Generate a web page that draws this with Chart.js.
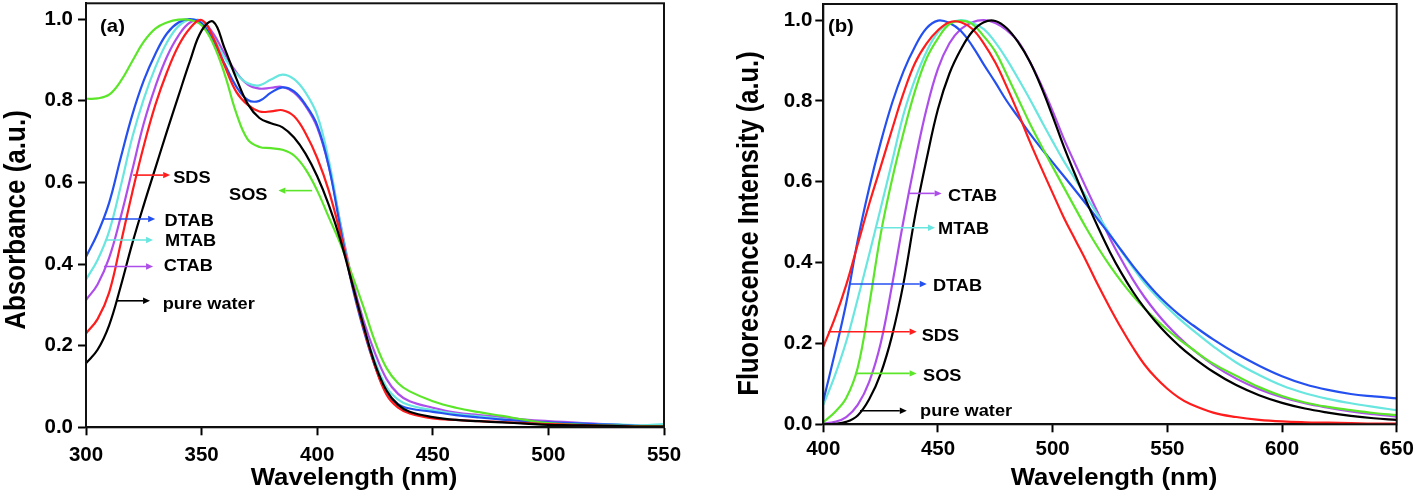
<!DOCTYPE html>
<html><head><meta charset="utf-8">
<script src="https://cdn.jsdelivr.net/npm/chart.js@4.4.1/dist/chart.umd.min.js"></script>
<style>
html,body{margin:0;padding:0;background:#fff;}
#wrap{position:relative;width:1418px;height:502px;background:#fff;}
#ca{position:absolute;left:0;top:0;}
#cb{position:absolute;left:700px;top:0;}
</style></head><body>
<div id="wrap"><canvas id="ca" width="700" height="502"></canvas><canvas id="cb" width="718" height="502"></canvas></div>
<script>
// ---------- (a) absorbance data ----------
const absWavelength = [300,305,310,315,320,325,330,335,340,345,350,355,360,365,370,375,380,385,390,395,400,405,410,415,420,425,430,435,440,450,460,470,480,490,500,510,520,530,540,550];
const absPureWater = [0.157,0.19,0.25,0.345,0.45,0.545,0.635,0.725,0.812,0.898,0.972,0.994,0.928,0.855,0.792,0.758,0.745,0.735,0.71,0.67,0.615,0.545,0.46,0.355,0.25,0.155,0.09,0.055,0.038,0.025,0.018,0.015,0.012,0.009,0.006,0.005,0.004,0.003,0.002,0.002];
const absSDS = [0.23,0.265,0.33,0.45,0.575,0.69,0.79,0.87,0.935,0.978,0.998,0.955,0.885,0.822,0.79,0.774,0.774,0.777,0.762,0.72,0.66,0.58,0.475,0.355,0.245,0.15,0.08,0.048,0.034,0.022,0.018,0.015,0.013,0.01,0.008,0.006,0.004,0.003,0.002,0.002];
const absSOS = [0.805,0.806,0.815,0.848,0.897,0.945,0.977,0.992,0.999,0.998,0.985,0.94,0.865,0.77,0.705,0.687,0.684,0.68,0.666,0.632,0.58,0.515,0.45,0.375,0.295,0.21,0.145,0.108,0.088,0.064,0.048,0.037,0.028,0.018,0.01,0.007,0.005,0.004,0.003,0.003];
const absDTAB = [0.418,0.475,0.55,0.66,0.765,0.85,0.915,0.965,0.992,1.0,0.99,0.948,0.89,0.835,0.802,0.80,0.82,0.833,0.823,0.79,0.74,0.64,0.49,0.35,0.24,0.15,0.085,0.057,0.046,0.038,0.03,0.024,0.019,0.015,0.012,0.01,0.008,0.006,0.003,0.002];
const absMTAB = [0.362,0.41,0.48,0.59,0.71,0.805,0.882,0.943,0.983,0.999,0.993,0.955,0.905,0.867,0.843,0.838,0.852,0.864,0.853,0.82,0.765,0.655,0.50,0.355,0.248,0.162,0.098,0.068,0.054,0.042,0.033,0.027,0.02,0.014,0.01,0.009,0.008,0.007,0.005,0.008];
const absCTAB = [0.312,0.35,0.415,0.515,0.63,0.745,0.835,0.908,0.96,0.992,0.996,0.965,0.915,0.87,0.84,0.83,0.832,0.834,0.82,0.787,0.735,0.64,0.50,0.365,0.262,0.182,0.118,0.082,0.064,0.048,0.036,0.03,0.025,0.019,0.015,0.012,0.009,0.006,0.004,0.003];

// ---------- (b) fluorescence data ----------
const flWavelength = [400,405,410,415,420,425,430,435,440,445,450,455,460,465,470,475,480,485,490,495,500,505,510,515,520,525,530,535,540,545,550,555,560,570,580,590,600,610,620,630,640,650];
const flPureWater = [0,0.001,0.006,0.022,0.062,0.125,0.22,0.35,0.515,0.655,0.78,0.868,0.928,0.972,0.995,0.998,0.98,0.945,0.898,0.835,0.762,0.685,0.615,0.548,0.485,0.426,0.374,0.328,0.288,0.253,0.222,0.195,0.171,0.13,0.097,0.072,0.053,0.039,0.029,0.021,0.015,0.011];
const flSDS = [0.192,0.262,0.345,0.445,0.545,0.637,0.73,0.82,0.894,0.942,0.975,0.995,0.995,0.978,0.942,0.895,0.835,0.77,0.70,0.635,0.572,0.51,0.455,0.40,0.342,0.288,0.237,0.19,0.148,0.115,0.088,0.066,0.05,0.029,0.018,0.011,0.007,0.005,0.004,0.003,0.002,0.002];
const flSOS = [0.005,0.03,0.065,0.14,0.295,0.47,0.606,0.722,0.825,0.905,0.955,0.99,0.998,0.99,0.96,0.922,0.865,0.805,0.745,0.69,0.637,0.585,0.533,0.482,0.435,0.392,0.353,0.318,0.287,0.259,0.234,0.211,0.19,0.15,0.12,0.092,0.07,0.054,0.043,0.035,0.028,0.023];
const flDTAB = [0.058,0.175,0.30,0.455,0.585,0.697,0.795,0.874,0.935,0.98,0.999,0.993,0.973,0.936,0.89,0.846,0.80,0.76,0.72,0.683,0.648,0.613,0.578,0.542,0.505,0.468,0.43,0.392,0.357,0.325,0.297,0.272,0.25,0.21,0.175,0.145,0.119,0.099,0.085,0.075,0.069,0.064];
const flMTAB = [0.048,0.12,0.205,0.31,0.42,0.534,0.65,0.767,0.854,0.922,0.97,0.992,1.0,0.993,0.978,0.945,0.903,0.855,0.805,0.752,0.70,0.65,0.605,0.56,0.515,0.47,0.428,0.388,0.35,0.318,0.289,0.262,0.238,0.193,0.153,0.122,0.096,0.077,0.063,0.052,0.043,0.035];
const flCTAB = [0.002,0.006,0.018,0.048,0.105,0.20,0.345,0.505,0.65,0.78,0.88,0.943,0.978,0.995,1.0,0.993,0.975,0.947,0.898,0.84,0.775,0.705,0.642,0.58,0.52,0.46,0.407,0.358,0.315,0.278,0.245,0.216,0.19,0.147,0.113,0.087,0.067,0.052,0.041,0.032,0.025,0.019];

// ---------- ticks ----------
const absXTicks = [300,350,400,450,500,550];
const flXTicks = [400,450,500,550,600,650];
const yTicks = [0,0.2,0.4,0.6,0.8,1.0];

const FONT = '"Liberation Sans", Arial, Helvetica, sans-serif';
const COLORS = {'pure water':'#000000', SDS:'#ff1c1c', SOS:'#5ce62a', DTAB:'#2450f0', MTAB:'#68e6df', CTAB:'#ae4eea'};

function ds(name, xs, ys){
  return {label:name, data: xs.map((w,i)=>({x:w,y:ys[i]})), borderColor:COLORS[name], backgroundColor:COLORS[name],
    borderWidth:2.2, pointRadius:0, tension:0.4, fill:false};
}

function drawText(ctx, str, x, y, size, align, sx){
  ctx.save();
  ctx.font = 'bold '+size+'px '+FONT;
  ctx.textAlign = align; ctx.textBaseline = 'middle'; ctx.fillStyle = '#000';
  ctx.translate(x,y); ctx.scale(sx,1); ctx.fillText(str,0,0);
  ctx.restore();
}
function drawArrow(ctx, x0, x1, y, color){
  const dir = Math.sign(x1-x0), head = 7;
  ctx.save();
  ctx.strokeStyle = color; ctx.fillStyle = color; ctx.lineWidth = 1.6;
  ctx.beginPath(); ctx.moveTo(x0,y); ctx.lineTo(x1-dir*head,y); ctx.stroke();
  ctx.beginPath(); ctx.moveTo(x1,y); ctx.lineTo(x1-dir*head,y-3.2); ctx.lineTo(x1-dir*head,y+3.2); ctx.closePath(); ctx.fill();
  ctx.restore();
}

function makePanel(canvas, p){
  const W = canvas.width, H = canvas.height;
  const plugin = {
    id:'panel',
    afterDatasetsDraw(chart){
      const ctx = chart.ctx, a = chart.chartArea, xs = chart.scales.x, ys = chart.scales.y;
      ctx.save();
      ctx.strokeStyle = '#111'; ctx.lineWidth = 2;
      ctx.strokeRect(a.left, a.top, a.right-a.left, a.bottom-a.top);
      ctx.restore();
      for (const an of p.notes){
        const x0 = xs.getPixelForValue(an.from), x1 = xs.getPixelForValue(an.to);
        drawArrow(ctx, x0, x1, ys.getPixelForValue(an.arrowY), COLORS[an.name]);
        drawText(ctx, an.name, xs.getPixelForValue(an.textX), ys.getPixelForValue(an.textY)+1, 17, an.to > an.from ? 'left':'right', 1.07);
      }
      drawText(ctx, p.tag, xs.getPixelForValue(p.tagX), ys.getPixelForValue(p.tagY)+1, 19, 'left', 1.07);
      const t = p.titles;
      ctx.save();
      ctx.font = 'bold 23px '+FONT; ctx.fillStyle='#000'; ctx.textAlign='center'; ctx.textBaseline='alphabetic';
      ctx.translate(t.xCenter, t.xBase); ctx.scale(1.12,1); ctx.fillText(p.xTitle,0,0);
      ctx.restore();
      ctx.save();
      ctx.font = 'bold '+t.ySize+'px '+FONT; ctx.fillStyle='#000'; ctx.textAlign='center'; ctx.textBaseline='alphabetic';
      ctx.translate(t.yBase, t.yCenter); ctx.scale(1.12,1); ctx.rotate(-Math.PI/2); ctx.fillText(p.yTitle,0,0);
      ctx.restore();
    }
  };
  const tickFont = {family:FONT, size:20.5, weight:'bold'};
  return new Chart(canvas, {
    type:'line',
    data:{datasets:p.datasets},
    options:{
      responsive:false, animation:false, devicePixelRatio:1,
      layout:{padding:{left:0, top:p.area.top, right:W-p.area.right, bottom:0}},
      plugins:{legend:{display:false}, tooltip:{enabled:false}, title:{display:false}},
      scales:{
        x:{type:'linear', min:p.xMin, max:p.xMax,
          afterBuildTicks:s=>{ s.ticks = p.xTicks.map(v=>({value:v})); },
          afterFit:s=>{ s.height = H-p.area.bottom; s.paddingLeft=0; s.paddingRight=0; s.paddingTop=0; s.paddingBottom=0; },
          grid:{drawOnChartArea:false, drawTicks:true, tickLength:8, tickWidth:2, tickColor:'#000'},
          border:{display:true, color:'#000', width:2},
          ticks:{font:tickFont, color:'#000', padding:p.xPad, maxRotation:0, autoSkip:false, callback:v=>String(v)}
        },
        y:{type:'linear', min:0, max:p.yMax,
          afterBuildTicks:s=>{ s.ticks = yTicks.map(v=>({value:v})); },
          afterFit:s=>{ s.width = p.area.left; s.paddingLeft=0; s.paddingRight=0; s.paddingTop=0; s.paddingBottom=0; },
          grid:{drawOnChartArea:false, drawTicks:true, tickLength:8, tickWidth:2, tickColor:'#000'},
          border:{display:true, color:'#000', width:2},
          ticks:{font:tickFont, color:'#000', padding:p.yPad, autoSkip:false, callback:v=>Number(v).toFixed(1)}
        }
      }
    },
    plugins:[plugin]
  });
}

makePanel(document.getElementById('ca'), {
  area:{left:86, right:664, top:3.3, bottom:427.3},
  xMin:300, xMax:550, yMax:1.039, xTicks:absXTicks, xPad:8, yPad:5,
  datasets:[ds('pure water',absWavelength,absPureWater), ds('SDS',absWavelength,absSDS), ds('SOS',absWavelength,absSOS),
            ds('DTAB',absWavelength,absDTAB), ds('MTAB',absWavelength,absMTAB), ds('CTAB',absWavelength,absCTAB)],
  notes:[
    {name:'SDS', from:320.4, to:336.4, arrowY:0.618, textX:337.7, textY:0.612},
    {name:'SOS', from:397.8, to:383.2, arrowY:0.580, textX:378.5, textY:0.572},
    {name:'DTAB', from:307.8, to:329.9, arrowY:0.5105, textX:334.0, textY:0.507},
    {name:'MTAB', from:308.2, to:329.0, arrowY:0.459, textX:334.2, textY:0.458},
    {name:'CTAB', from:307.8, to:329.0, arrowY:0.394, textX:333.6, textY:0.398},
    {name:'pure water', from:313.0, to:327.7, arrowY:0.31, textX:333.2, textY:0.303}
  ],
  tag:'(a)', tagX:306.1, tagY:0.984,
  xTitle:'Wavelength (nm)', yTitle:'Absorbance (a.u.)',
  titles:{xCenter:354, xBase:485, yBase:25, yCenter:220, ySize:26}
});

makePanel(document.getElementById('cb'), {
  area:{left:123.3, right:696.7, top:4, bottom:424.3},
  xMin:400, xMax:650, yMax:1.04, xTicks:flXTicks, xPad:5, yPad:3,
  datasets:[ds('pure water',flWavelength,flPureWater), ds('SDS',flWavelength,flSDS), ds('SOS',flWavelength,flSOS),
            ds('DTAB',flWavelength,flDTAB), ds('MTAB',flWavelength,flMTAB), ds('CTAB',flWavelength,flCTAB)],
  notes:[
    {name:'CTAB', from:437.05, to:451.6, arrowY:0.5714, textX:454.4, textY:0.567},
    {name:'MTAB', from:423.3, to:448.7, arrowY:0.4863, textX:450.0, textY:0.484},
    {name:'DTAB', from:411.6, to:445.1, arrowY:0.347, textX:447.8, textY:0.3445},
    {name:'SDS', from:402.2, to:440.7, arrowY:0.229, textX:442.9, textY:0.221},
    {name:'SOS', from:413.8, to:440.7, arrowY:0.126, textX:443.5, textY:0.122},
    {name:'pure water', from:416.0, to:436.4, arrowY:0.0336, textX:442.2, textY:0.035}
  ],
  tag:'(b)', tagX:402.0, tagY:0.9855,
  xTitle:'Wavelength (nm)', yTitle:'Fluorescence Intensity (a.u.)',
  titles:{xCenter:414, xBase:485, yBase:58.3, yCenter:223.5, ySize:25.5}
});
</script>
</body></html>
